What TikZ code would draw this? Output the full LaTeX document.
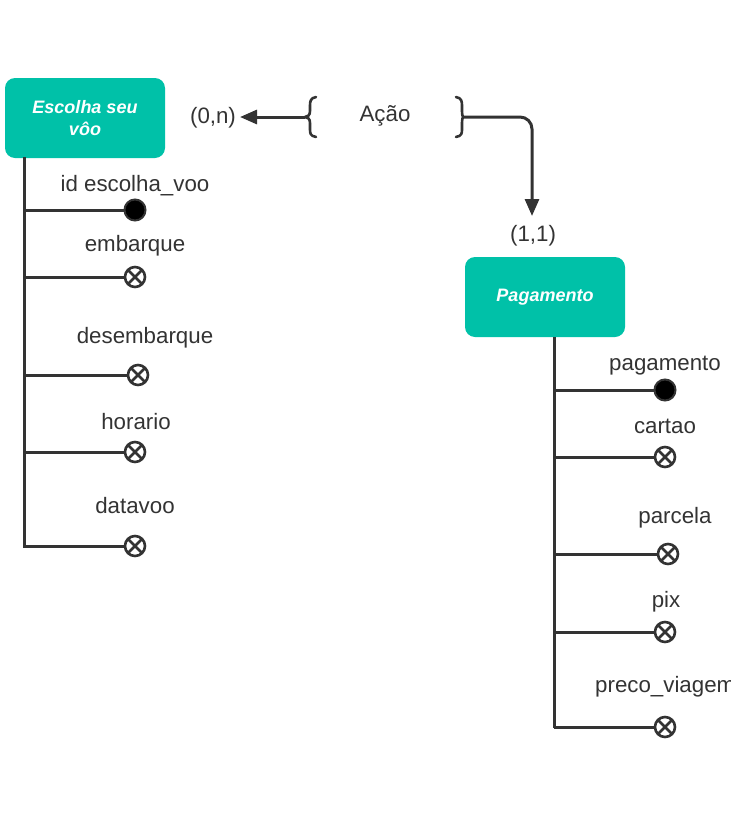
\documentclass[tikz,border=0pt]{standalone}
\usepackage{fontspec}
\setmainfont{Liberation Sans}
\usetikzlibrary{arrows.meta}
\definecolor{teal1}{HTML}{00C1A8}
\definecolor{ln}{HTML}{333333}
\tikzset{
  ent/.style={rounded corners=10pt, fill=teal1, minimum width=160pt, minimum height=80pt, text=white, font=\fontsize{18}{22}\selectfont\bfseries\itshape, align=center, inner sep=0pt},
  lbl/.style={font=\fontsize{22.3}{25}\selectfont, text=ln, inner sep=0pt},
  conn/.style={draw=ln, line width=3pt},
  keyattr/.style={circle, fill=black, draw=ln, line width=2pt, minimum size=21pt, inner sep=0pt},
  xattr/.style={circle, draw=ln, line width=2.6pt, fill=white, minimum size=20pt, inner sep=0pt,
    path picture={\draw[ln, line width=2.6pt] (path picture bounding box.south west) -- (path picture bounding box.north east) (path picture bounding box.north west) -- (path picture bounding box.south east);}},
  arr/.style={conn, -{Triangle[length=17pt,width=14pt]}},
}
\begin{document}
\begin{tikzpicture}[x=1pt,y=-1pt]
\useasboundingbox (0,0) rectangle (731,825);
% entities
\node[ent] (esc) at (85,118) {Escolha seu\\vôo};
\node[ent] (pag) at (545,297) {Pagamento};
% relationship
\node[lbl] (acao) at (385,116) {Ação};
\node[lbl] (card1) at (213,118) {(0,n)};
\node[lbl] (card2) at (533,236) {(1,1)};
% braces
\coordinate (lb) at (305,117);
\coordinate (rb) at (463,117);
\draw[ln, line width=2.6pt, line cap=round, line join=round] (316,97) .. controls (310,98) and (310,102) .. (310,106) -- (310,111) .. controls (310,115) and (308,117) .. (lb) .. controls (308,117) and (310,119) .. (310,123) -- (310,129) .. controls (310,133) and (310,136) .. (316,137);
\draw[ln, line width=2.6pt, line cap=round, line join=round] (456,97) .. controls (462,98) and (462,102) .. (462,106) -- (462,111) .. controls (462,115) and (463,117) .. (rb) .. controls (463,117) and (462,119) .. (462,123) -- (462,129) .. controls (462,133) and (462,136) .. (456,137);
\coordinate (a1) at (240,117);
\coordinate (a2) at (532,216);
\draw[arr] (lb) -- (a1);
\draw[arr, rounded corners=12pt] (rb) -- (532,117) -- (a2);
% left attributes
\coordinate (lt) at (24,157);
\coordinate (lbot) at (24,548);
\draw[conn] (lt) -- (lbot);
\node[keyattr] (l1) at (135,210) {};
\node[xattr] (l2) at (135,277) {};
\node[xattr] (l3) at (138,375) {};
\node[xattr] (l4) at (135,452) {};
\node[xattr] (l5) at (135,546) {};
\foreach \n/\y in {l1/210,l2/277,l3/375,l4/452,l5/546} { \draw[conn] (24,\y) -- (\n); }
\node[lbl] (t1) at (135,186) {id escolha\_voo};
\node[lbl] (t2) at (135,246) {embarque};
\node[lbl] (t3) at (145,338) {desembarque};
\node[lbl] (t4) at (136,422) {horario};
\node[lbl] (t5) at (135,506) {datavoo};
% right attributes
\coordinate (rt) at (554,337);
\coordinate (rbot) at (554,728);
\draw[conn] (rt) -- (rbot);
\node[keyattr] (r1) at (665,390) {};
\node[xattr] (r2) at (665,457) {};
\node[xattr] (r3) at (668,554) {};
\node[xattr] (r4) at (665,632) {};
\node[xattr] (r5) at (665,727) {};
\foreach \n/\y in {r1/390,r2/457,r3/554,r4/632,r5/727} { \draw[conn] (554,\y) -- (\n); }
\node[lbl] (s1) at (665,366) {pagamento};
\node[lbl] (s2) at (665,426) {cartao};
\node[lbl] (s3) at (675,518) {parcela};
\node[lbl] (s4) at (666,602) {pix};
\node[lbl, anchor=west] (s5) at (595,687) {preco\_viagem};
\end{tikzpicture}
\end{document}
